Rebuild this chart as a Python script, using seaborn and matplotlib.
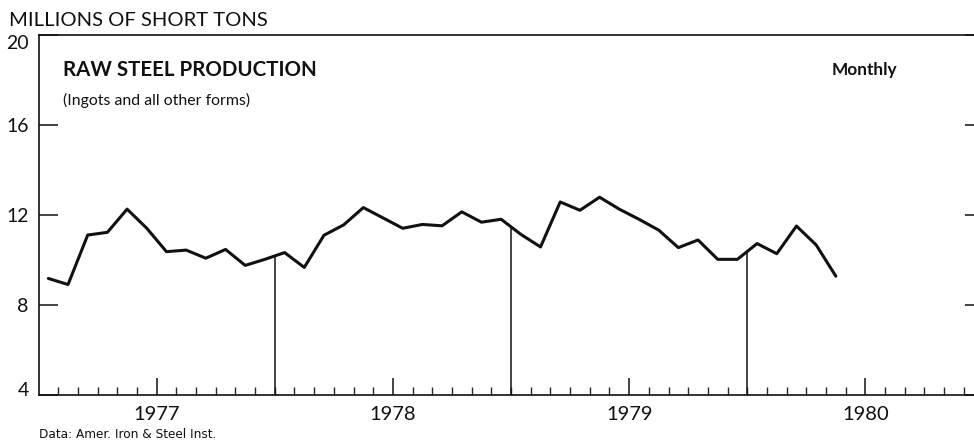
import numpy as np
import pandas as pd
import seaborn as sns
import matplotlib.pyplot as plt
import matplotlib.transforms as mtransforms

sns.set_style("white")
plt.rcParams['font.family'] = ['Lato', 'DejaVu Sans']

# monthly raw steel output, Jan 1977 - May 1980 (millions of short tons)
production = [9.18, 8.91, 11.11, 11.23, 12.26, 11.41, 10.37, 10.44, 10.08, 10.47, 9.76, 10.03,
              10.33, 9.67, 11.10, 11.56, 12.33, 11.87, 11.41, 11.58, 11.52, 12.14, 11.68, 11.81,
              11.14, 10.58, 12.58, 12.21, 12.79, 12.26, 11.81, 11.33, 10.55, 10.89, 10.03, 10.03,
              10.73, 10.28, 11.51, 10.67, 9.28]
years = [1977, 1978, 1979, 1980]
y_ticks = [4, 8, 12, 16, 20]

df = pd.DataFrame({'month': np.arange(len(production)) + 0.5, 'tons': production})

W, H = 974, 445
fig = plt.figure(figsize=(W / 100, H / 100), dpi=100)
# axes runs a little past the right edge of the picture, like the clipped original
ax = fig.add_axes([38.5 / W, 50 / H, (983.5 - 38.5) / W, 360 / H])

sns.lineplot(data=df, x='month', y='tons', color='#111111', lw=2.2, ax=ax)

# drop lines at each year boundary
bounds = [12 * (i + 1) for i in range(len(years) - 1)]
tops = np.interp(bounds, df['month'], df['tons'])
ax.vlines(bounds, y_ticks[0], tops, color='#111111', lw=1.1)

ax.set_xlim(0, 12 * len(years))
ax.set_ylim(y_ticks[0], y_ticks[-1])
ax.set_yticks(y_ticks)
ax.set_xticks([12 * i + 6 for i in range(len(years))])
ax.set_xticklabels([str(y) for y in years])
ax.set_xticks([m for m in range(1, 12 * len(years)) if m % 12 != 6], minor=True)
ax.set_xlabel('')
ax.set_ylabel('')

ax.tick_params(axis='y', left=True, right=True, direction='in', length=13.5, width=1.1,
               labelsize=14, pad=7, colors='#111111')
ax.tick_params(axis='x', which='major', bottom=True, direction='in', length=12, width=1.1,
               labelsize=14.5, pad=8, colors='#111111')
ax.tick_params(axis='x', which='minor', bottom=True, direction='in', length=5.8, width=1.0)

# end labels sit inside the frame a bit
ylabels = ax.get_yticklabels()
ylabels[-1].set_transform(ylabels[-1].get_transform()
                          + mtransforms.ScaledTranslation(0, -7 / 100, fig.dpi_scale_trans))
ylabels[0].set_transform(ylabels[0].get_transform()
                         + mtransforms.ScaledTranslation(0, 6 / 100, fig.dpi_scale_trans))

for side in ['left', 'bottom', 'top']:
    ax.spines[side].set_color('#111111')
    ax.spines[side].set_linewidth(1.2)
ax.spines['right'].set_visible(False)

fig.text(9 / W, 1 - 21 / H, 'MILLIONS OF SHORT TONS', fontsize=14.6, va='center', ha='left',
         color='#111111')
fig.text(63 / W, 1 - 70 / H, 'RAW STEEL PRODUCTION', fontsize=14.8, fontweight='bold',
         va='center', ha='left', color='#111111')
fig.text(63 / W, 1 - 100 / H, '(Ingots and all other forms)', fontsize=11.4, va='center',
         ha='left', color='#111111')
fig.text(832 / W, 1 - 70 / H, 'Monthly', fontsize=12.4, fontweight='bold', va='center',
         ha='left', color='#111111')
fig.text(39 / W, 1 - 435 / H, 'Data: Amer. Iron & Steel Inst.', fontsize=8.7, va='center',
         ha='left', color='#111111', family=['Liberation Sans Narrow', 'DejaVu Sans'])

fig.savefig('out.png', dpi=100)
